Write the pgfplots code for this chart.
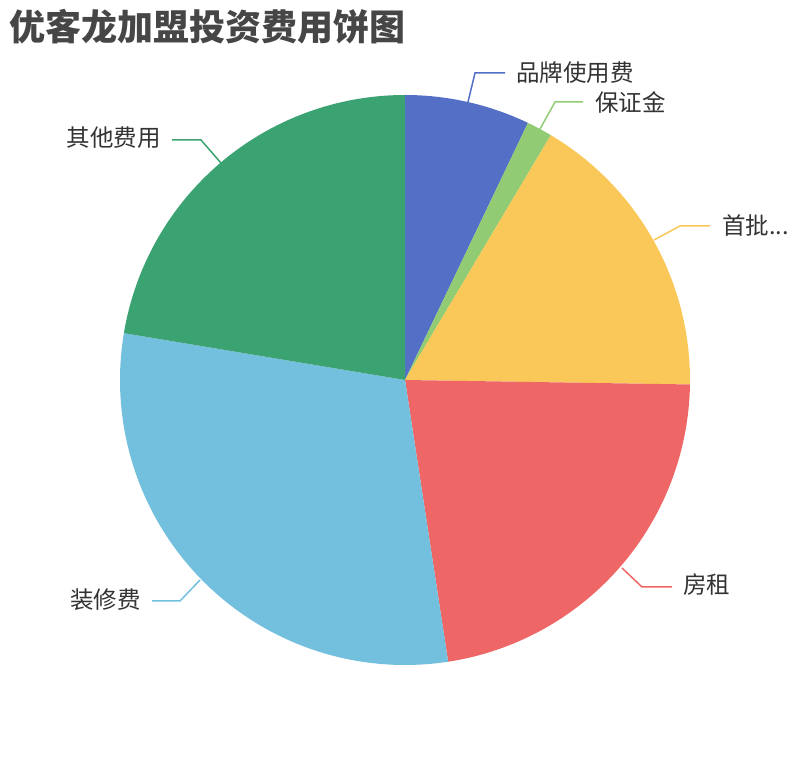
\documentclass[border=0pt]{standalone}
\usepackage{pgfplots}
\pgfplotsset{compat=1.18}
\usepackage{fontspec}
\setmainfont{Noto Sans CJK SC}
\definecolor{c1}{HTML}{5470C6}
\definecolor{c2}{HTML}{91CC75}
\definecolor{c3}{HTML}{FAC858}
\definecolor{c4}{HTML}{EE6666}
\definecolor{c5}{HTML}{73C0DE}
\definecolor{c6}{HTML}{3BA272}
\definecolor{ttl}{HTML}{464646}
\definecolor{lbl}{HTML}{333333}
% shares (%): 品牌使用费 7.1, 保证金 1.45, 首批 16.7, 房租 22.33, 装修费 30.05, 其他费用 22.37
% slice boundary angles = 90 - 3.6*cumsum
\begin{document}
\begin{tikzpicture}
\begin{axis}[
  width=810bp, height=760bp, scale only axis,
  xmin=0, xmax=810, ymin=0, ymax=760,
  hide axis, clip=false,
]
\path (axis cs:0,0) rectangle (axis cs:810,760);
\addplot[fill=c1, draw=none, domain=90:64.44, samples=60, variable=\t] ({405+285*cos(t)},{380+285*sin(t)}) -- (axis cs:405,380) -- cycle;
\addplot[fill=c2, draw=none, domain=64.44:59.22, samples=20, variable=\t] ({405+285*cos(t)},{380+285*sin(t)}) -- (axis cs:405,380) -- cycle;
\addplot[fill=c3, draw=none, domain=59.22:-0.9, samples=100, variable=\t] ({405+285*cos(t)},{380+285*sin(t)}) -- (axis cs:405,380) -- cycle;
\addplot[fill=c4, draw=none, domain=-0.9:-81.29, samples=120, variable=\t] ({405+285*cos(t)},{380+285*sin(t)}) -- (axis cs:405,380) -- cycle;
\addplot[fill=c5, draw=none, domain=-81.29:-189.47, samples=160, variable=\t] ({405+285*cos(t)},{380+285*sin(t)}) -- (axis cs:405,380) -- cycle;
\addplot[fill=c6, draw=none, domain=-189.47:-270, samples=120, variable=\t] ({405+285*cos(t)},{380+285*sin(t)}) -- (axis cs:405,380) -- cycle;
% leader lines
\addplot[c1, line width=1.5bp] coordinates {(468,658) (475,687) (505,687)};
\addplot[c2, line width=1.5bp] coordinates {(540,631) (555,658) (583,658)};
\addplot[c3, line width=1.5bp] coordinates {(654,520) (680,534) (710,534)};
\addplot[c4, line width=1.5bp] coordinates {(622,192) (642,173) (672,173)};
\addplot[c5, line width=1.5bp] coordinates {(200,180) (180,159) (152,159)};
\addplot[c6, line width=1.5bp] coordinates {(221,597) (201,620) (172,620)};
% labels
\node[anchor=west, inner sep=0, text=lbl, font=\fontsize{23.5bp}{24bp}\selectfont] at (axis cs:516,687) {品牌使用费};
\node[anchor=west, inner sep=0, text=lbl, font=\fontsize{23.5bp}{24bp}\selectfont] at (axis cs:595,658) {保证金};
\node[anchor=west, inner sep=0, text=lbl, font=\fontsize{23.5bp}{24bp}\selectfont] at (axis cs:722,534) {首批...};
\node[anchor=west, inner sep=0, text=lbl, font=\fontsize{23.5bp}{24bp}\selectfont] at (axis cs:683,175) {房租};
\node[anchor=east, inner sep=0, text=lbl, font=\fontsize{23.5bp}{24bp}\selectfont] at (axis cs:141,160) {装修费};
\node[anchor=east, inner sep=0, text=lbl, font=\fontsize{23.5bp}{24bp}\selectfont] at (axis cs:161,622) {其他费用};
\node[anchor=west, inner sep=0, text=ttl, font=\fontsize{36bp}{36bp}\selectfont\bfseries] at (axis cs:9,733) {优客龙加盟投资费用饼图};
\end{axis}
\end{tikzpicture}
\end{document}
